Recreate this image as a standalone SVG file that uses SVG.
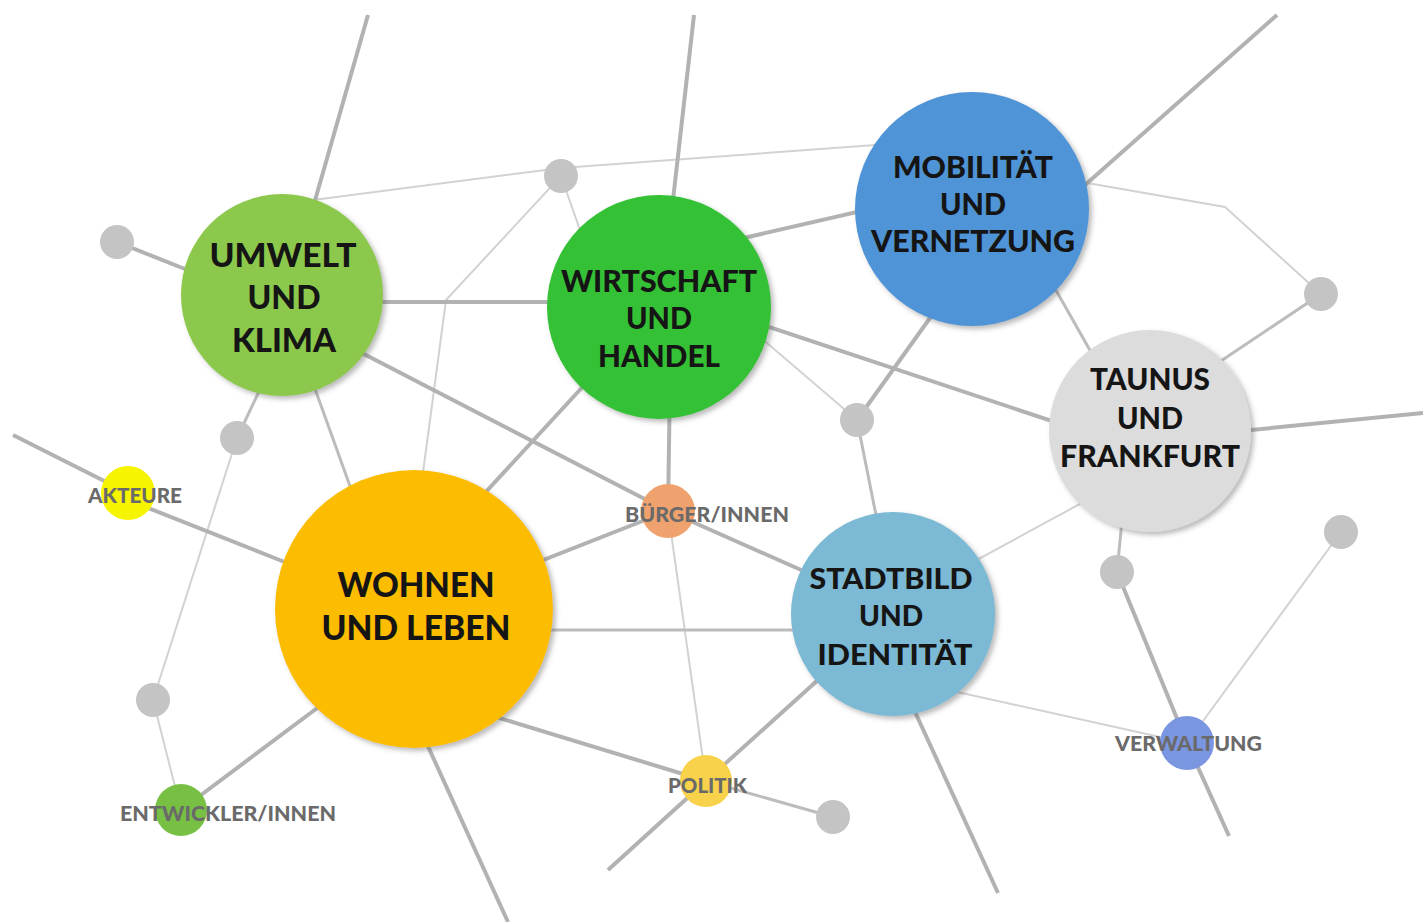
<svg xmlns="http://www.w3.org/2000/svg" width="1423" height="922" viewBox="0 0 1423 922">
<defs>
<filter id="sh" x="-20%" y="-20%" width="140%" height="140%">
<feDropShadow dx="3" dy="3" stdDeviation="2.5" flood-color="#555" flood-opacity="0.4"/>
</filter>
<style>
.thick{stroke:#b2b2b2;stroke-width:4;fill:none;stroke-linecap:butt}
.mid{stroke:#bcbcbc;stroke-width:3;fill:none}
.thin{stroke:#d2d2d2;stroke-width:2;fill:none}
.dot{fill:#c4c4c4}
.big{font-family:Lato,"Noto Sans",sans-serif;font-weight:900;fill:#151515;text-anchor:middle}
.lbl{font-family:Lato,"Noto Sans",sans-serif;font-weight:900;fill:#6a6a6a;font-size:21px}
</style>
</defs>
<rect width="1423" height="922" fill="#ffffff"/>
<g id="connectors">
<line class="thin" x1="237" y1="438" x2="153" y2="700"/>
<line class="thin" x1="153" y1="700" x2="181" y2="810"/>
<polyline class="thin" points="313,200 561,168 875,145"/>
<line class="thin" x1="561" y1="176" x2="580" y2="230"/>
<polyline class="thin" points="561,176 446,300 422,480"/>
<line class="thin" x1="668" y1="511" x2="706" y2="781"/>
<line class="thin" x1="740" y1="320" x2="857" y2="420"/>
<line class="thin" x1="1341" y1="532" x2="1187" y2="743"/>
<line class="thin" x1="930" y1="686" x2="1187" y2="743"/>
<line class="thin" x1="940" y1="580" x2="1100" y2="493"/>
<line class="mid" x1="1040" y1="262" x2="1100" y2="368"/>
<polyline class="thin" points="1070,180 1225,207 1321,294"/>
<line class="mid" x1="262" y1="385" x2="237" y2="438"/>
<line class="mid" x1="310" y1="375" x2="355" y2="500"/>
<line class="mid" x1="500" y1="630" x2="850" y2="630"/>
<line class="mid" x1="706" y1="781" x2="833" y2="817"/>
<line class="mid" x1="857" y1="420" x2="885" y2="560"/>
<line class="mid" x1="1200" y1="375" x2="1321" y2="294"/>
<line class="mid" x1="1124" y1="500" x2="1117" y2="572"/>
<line class="thick" x1="368" y1="15" x2="306" y2="232"/>
<line class="thick" x1="694" y1="15" x2="673" y2="200"/>
<line class="thick" x1="1277" y1="15" x2="1085" y2="185"/>
<line class="thick" x1="117" y1="242" x2="200" y2="275"/>
<line class="thick" x1="282" y1="302" x2="659" y2="302"/>
<line class="thick" x1="300" y1="321" x2="668" y2="511"/>
<line class="thick" x1="700" y1="248" x2="940" y2="193"/>
<line class="thick" x1="700" y1="304" x2="1100" y2="437"/>
<line class="thick" x1="670" y1="380" x2="668" y2="511"/>
<line class="thick" x1="600" y1="368" x2="460" y2="520"/>
<line class="thick" x1="950" y1="290" x2="857" y2="420"/>
<line class="thick" x1="1200" y1="435" x2="1423" y2="413"/>
<line class="thick" x1="13" y1="435" x2="128" y2="493"/>
<line class="thick" x1="128" y1="500" x2="330" y2="580"/>
<line class="thick" x1="500" y1="577" x2="668" y2="511"/>
<line class="thick" x1="668" y1="511" x2="880" y2="605"/>
<line class="thick" x1="340" y1="691" x2="181" y2="810"/>
<line class="thick" x1="416" y1="720" x2="508" y2="922"/>
<line class="thick" x1="460" y1="706" x2="706" y2="781"/>
<line class="thick" x1="706" y1="781" x2="850" y2="651"/>
<line class="thick" x1="608" y1="870" x2="706" y2="781"/>
<line class="thick" x1="905" y1="690" x2="998" y2="893"/>
<line class="thick" x1="1117" y1="572" x2="1187" y2="743"/>
<line class="thick" x1="1187" y1="743" x2="1229" y2="836"/>
</g>
<g id="dots">
<circle class="dot" cx="117" cy="242" r="17"/>
<circle class="dot" cx="561" cy="176" r="17"/>
<circle class="dot" cx="237" cy="438" r="17"/>
<circle class="dot" cx="857" cy="420" r="17"/>
<circle class="dot" cx="1321" cy="294" r="17"/>
<circle class="dot" cx="1117" cy="572" r="17"/>
<circle class="dot" cx="1341" cy="532" r="17"/>
<circle class="dot" cx="153" cy="700" r="17"/>
<circle class="dot" cx="833" cy="817" r="17"/>
</g>
<g id="umwelt">
<circle cx="282" cy="295" r="101" fill="#8cc84b" filter="url(#sh)"/>
<text class="big" font-size="33" x="283" y="267" textLength="147" lengthAdjust="spacingAndGlyphs">UMWELT</text>
<text class="big" font-size="33" x="284" y="309" textLength="73" lengthAdjust="spacingAndGlyphs">UND</text>
<text class="big" font-size="33" x="284" y="352" textLength="104" lengthAdjust="spacingAndGlyphs">KLIMA</text>
</g>
<g id="wirtschaft">
<circle cx="659" cy="307" r="112" fill="#35c135" filter="url(#sh)"/>
<text class="big" font-size="30" x="659" y="292" textLength="196" lengthAdjust="spacingAndGlyphs">WIRTSCHAFT</text>
<text class="big" font-size="30" x="659" y="329" textLength="66" lengthAdjust="spacingAndGlyphs">UND</text>
<text class="big" font-size="30" x="659" y="367" textLength="122" lengthAdjust="spacingAndGlyphs">HANDEL</text>
</g>
<g id="mobilitaet">
<circle cx="972" cy="209" r="117" fill="#4f94d6" filter="url(#sh)"/>
<text class="big" font-size="30" x="973" y="178" textLength="160" lengthAdjust="spacingAndGlyphs">MOBILITÄT</text>
<text class="big" font-size="30" x="973" y="215" textLength="66" lengthAdjust="spacingAndGlyphs">UND</text>
<text class="big" font-size="30" x="973" y="252" textLength="204" lengthAdjust="spacingAndGlyphs">VERNETZUNG</text>
</g>
<g id="taunus">
<circle cx="1150" cy="431" r="101" fill="#dcdcdc" filter="url(#sh)"/>
<text class="big" font-size="30" x="1150" y="390" textLength="120" lengthAdjust="spacingAndGlyphs">TAUNUS</text>
<text class="big" font-size="30" x="1150" y="429" textLength="66" lengthAdjust="spacingAndGlyphs">UND</text>
<text class="big" font-size="30" x="1150" y="467" textLength="180" lengthAdjust="spacingAndGlyphs">FRANKFURT</text>
</g>
<g id="wohnen">
<circle cx="414" cy="609" r="139" fill="#fcbc04" filter="url(#sh)"/>
<text class="big" font-size="34" x="416" y="597" textLength="157" lengthAdjust="spacingAndGlyphs">WOHNEN</text>
<text class="big" font-size="34" x="416" y="640" textLength="189" lengthAdjust="spacingAndGlyphs">UND LEBEN</text>
</g>
<g id="stadtbild">
<circle cx="893" cy="614" r="102" fill="#7cb9d5" filter="url(#sh)"/>
<text class="big" font-size="29" x="891" y="589" textLength="163" lengthAdjust="spacingAndGlyphs">STADTBILD</text>
<text class="big" font-size="29" x="891" y="626" textLength="64" lengthAdjust="spacingAndGlyphs">UND</text>
<text class="big" font-size="29" x="895" y="665" textLength="155" lengthAdjust="spacingAndGlyphs">IDENTITÄT</text>
</g>
<g id="akteure">
<circle cx="128" cy="493" r="27" fill="#f7f400"/>
<text class="lbl" x="88" y="503" textLength="94" lengthAdjust="spacingAndGlyphs">AKTEURE</text>
</g>
<g id="buerger">
<circle cx="668" cy="511" r="27" fill="#f0a26e"/>
<text class="lbl" x="625" y="522" textLength="164" lengthAdjust="spacingAndGlyphs">BÜRGER/INNEN</text>
</g>
<g id="entwickler">
<circle cx="181" cy="810" r="26" fill="#78c044"/>
<text class="lbl" x="120" y="821" textLength="216" lengthAdjust="spacingAndGlyphs">ENTWICKLER/INNEN</text>
</g>
<g id="politik">
<circle cx="706" cy="781" r="26" fill="#f8d24a"/>
<text class="lbl" x="668" y="793" textLength="79" lengthAdjust="spacingAndGlyphs">POLITIK</text>
</g>
<g id="verwaltung">
<circle cx="1187" cy="743" r="27" fill="#7a96e0"/>
<text class="lbl" x="1115" y="751" textLength="147" lengthAdjust="spacingAndGlyphs">VERWALTUNG</text>
</g>
</svg>
